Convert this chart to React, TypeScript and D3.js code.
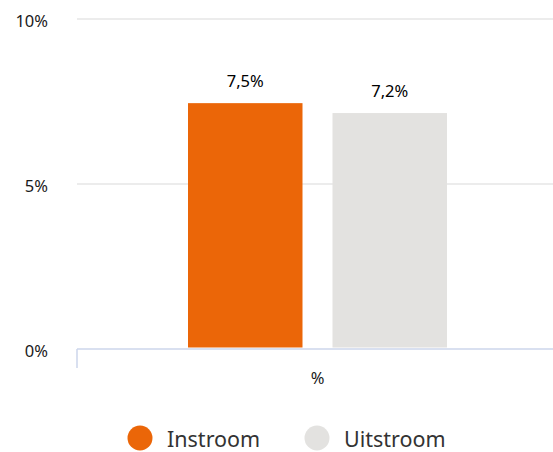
import React from "react";
import * as d3 from "d3";

const categories = ["%"];
const seriesNames = ["Instroom", "Uitstroom"];
const seriesValues = [7.45, 7.15];
const seriesColors = ["#EB6608", "#E3E2E0"];
const yTicks = [0, 5, 10];

const W = 553;
const H = 452;
const FONT = "'Noto Sans', 'Open Sans', sans-serif";

export default function App() {
  const left = 77;
  const top = 19;
  const bottom = 349;
  const plotRight = 558;

  const y = d3.scaleLinear().domain([0, 10]).range([bottom, top]);
  const x0 = d3.scaleBand().domain(categories).range([left, plotRight]).paddingInner(0).paddingOuter(0.4286);
  const x1 = d3.scaleBand().domain(seriesNames).range([0, x0.bandwidth()]).paddingInner(0.2076).paddingOuter(0);
  const fmt = (v: number) => d3.format(".1f")(v).replace(".", ",") + "%";

  return (
    <svg width={W} height={H} style={{ position: "absolute", left: 0, top: 0, fontFamily: FONT }}>
      <rect width={W} height={H} fill="#fff" />
      {yTicks.map((t) => (
        <g key={t}>
          {t !== 0 && (
            <line x1={left} x2={W} y1={y(t)} y2={y(t)} stroke="#e6e6e6" strokeWidth={1.5} />
          )}
          <text x={48} y={y(t) + 8} textAnchor="end" fontSize={16.5} fill="#1a1a1a">
            {t}%
          </text>
        </g>
      ))}
      {categories.map((c) => (
        <g key={c}>
          {seriesNames.map((s, i) => {
            const bx = (x0(c) as number) + (x1(s) as number);
            const v = seriesValues[i];
            return (
              <g key={s}>
                <rect x={bx} y={y(v)} width={x1.bandwidth()} height={bottom - 1.5 - y(v)} fill={seriesColors[i]} />
                <text x={bx + x1.bandwidth() / 2} y={y(v) - 16} textAnchor="middle" fontSize={16.5} fill="#000">
                  {fmt(v)}
                </text>
              </g>
            );
          })}
          <text x={(x0(c) as number) + x0.bandwidth() / 2} y={384} textAnchor="middle" fontSize={16.5} fill="#1a1a1a">
            {c}
          </text>
        </g>
      ))}
      <line x1={left} x2={W} y1={bottom} y2={bottom} stroke="#ccd6eb" strokeWidth={1.5} />
      <line x1={left} x2={left} y1={bottom} y2={368} stroke="#ccd6eb" strokeWidth={1.5} />
      {seriesNames.map((s, i) => {
        const lx = [140, 317][i];
        return (
          <g key={s}>
            <circle cx={lx} cy={438} r={12.5} fill={seriesColors[i]} />
            <text x={lx + 27} y={447} fontSize={21.5} fill="#333">
              {s}
            </text>
          </g>
        );
      })}
    </svg>
  );
}
